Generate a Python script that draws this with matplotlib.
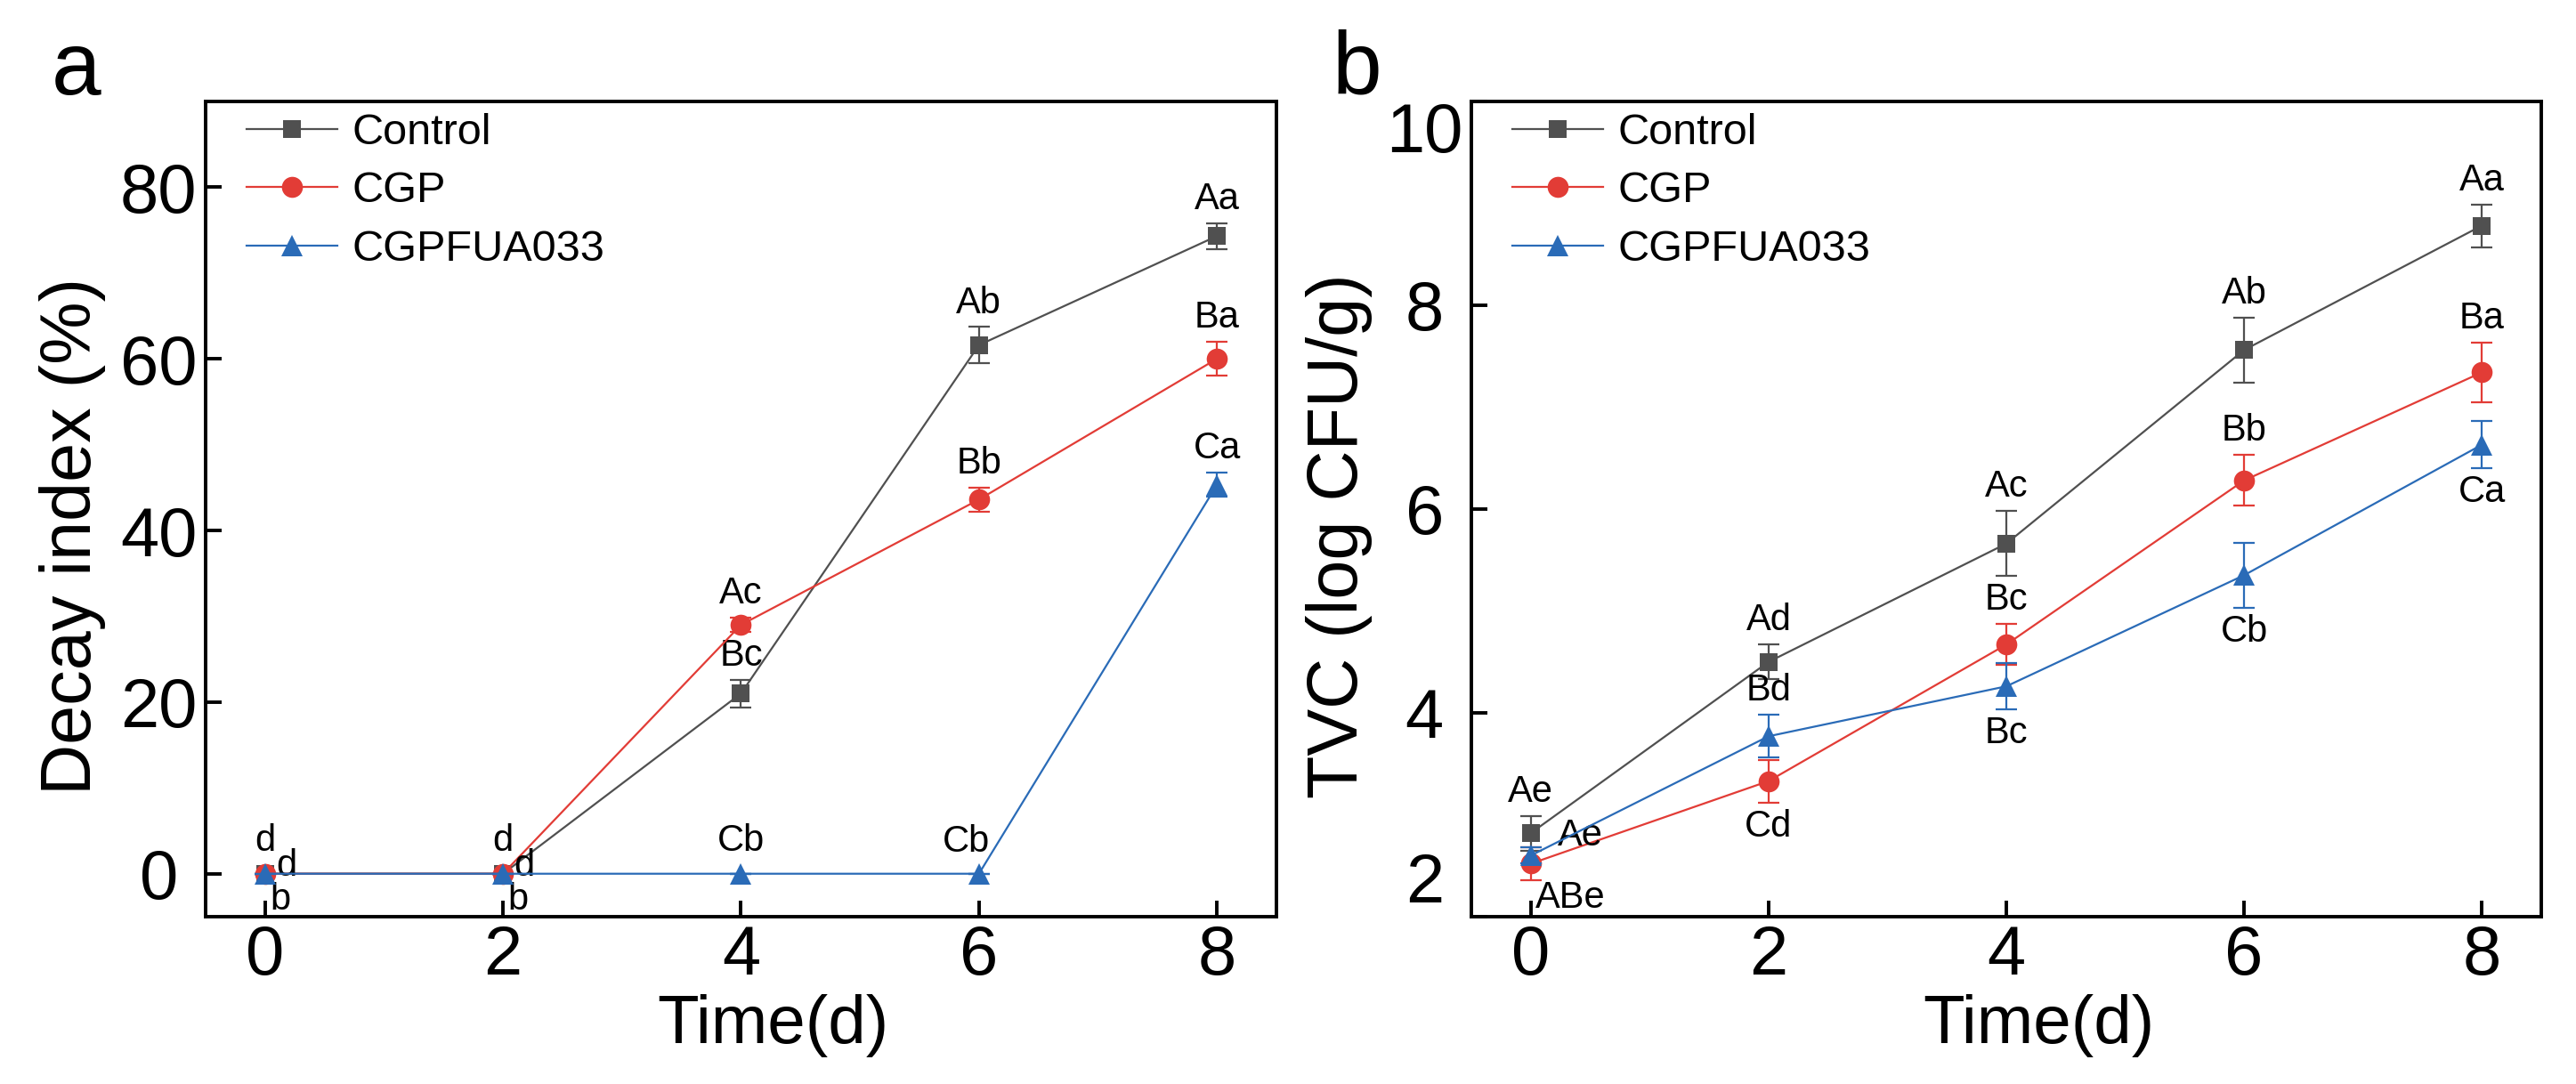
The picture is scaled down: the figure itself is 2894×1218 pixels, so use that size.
# Decay index and TVC of stored samples, panels a and b

import matplotlib.pyplot as plt

plt.rcParams["font.family"] = ["Liberation Sans", "DejaVu Sans"]

# Storage time (days)
days = [0, 2, 4, 6, 8]
series_names = ["Control", "CGP", "CGPFUA033"]

# Panel a: decay index (%)
decay_control = [0, 0, 21.0, 61.6, 74.3]
decay_control_err = [0, 0, 1.6, 2.1, 1.5]
decay_cgp = [0, 0, 29.0, 43.6, 60.0]
decay_cgp_err = [0, 0, 0.8, 1.4, 2.0]
decay_fua = [0, 0, 0, 0, 45.3]
decay_fua_err = [0, 0, 0, 0, 1.4]

decay_control_lbl = ["d", "d", "Bc", "Ab", "Aa"]
decay_cgp_lbl = ["d", "d", "Ac", "Bb", "Ba"]
decay_fua_lbl = ["b", "b", "Cb", "Cb", "Ca"]

# Panel b: total viable count (log CFU/g)
tvc_control = [2.82, 4.50, 5.66, 7.56, 8.78]
tvc_control_err = [0.17, 0.17, 0.32, 0.32, 0.21]
tvc_cgp = [2.52, 3.33, 4.67, 6.28, 7.34]
tvc_cgp_err = [0.16, 0.21, 0.20, 0.25, 0.29]
tvc_fua = [2.60, 3.77, 4.26, 5.35, 6.63]
tvc_fua_err = [0.08, 0.21, 0.23, 0.32, 0.23]

tvc_control_lbl = ["Ae", "Ad", "Ac", "Ab", "Aa"]
tvc_cgp_lbl = ["ABe", "Cd", "Bc", "Bb", "Ba"]
tvc_fua_lbl = ["Ae", "Bd", "Bc", "Cb", "Ca"]

# Where each letter group sits relative to its point
decay_control_where = ["above", "above", "above", "above", "above"]
decay_cgp_where = ["right", "right", "above", "above", "above"]
decay_fua_where = ["below-right", "below-right", "above", "above-left", "above"]
tvc_control_where = ["above", "above", "above", "above", "above"]
tvc_cgp_where = ["below-right", "below", "above", "above", "above"]
tvc_fua_where = ["upper-right", "above", "below", "below", "below"]

colors = ["#505050", "#E23C36", "#2A6BB7"]
markers = ["s", "o", "^"]
marker_sizes = [14, 17, 17]

LW = 1.6
SPINE_LW = 2.8
FS_TICK = 56
FS_LABEL = 55
FS_NOTE = 30


def annotate(ax, x, y, err, text, where):
    gap = 5 if err > 0 else 12
    if where == "above":
        xy, off, ha, va = (x, y + err), (0, gap), "center", "bottom"
    elif where == "below":
        xy, off, ha, va = (x, y - err), (0, -gap), "center", "top"
    elif where == "right":
        xy, off, ha, va = (x, y), (9, 6), "left", "center"
    elif where == "upper-right":
        xy, off, ha, va = (x, y), (22, 16), "left", "center"
    elif where == "below-right":
        xy, off, ha, va = (x, y - err), (4, -gap + 5), "left", "top"
    else:  # above-left
        xy, off, ha, va = (x, y), (-10, 11), "center", "bottom"
    ax.annotate(text, xy=xy, xytext=off, textcoords="offset points",
                ha=ha, va=va, fontsize=FS_NOTE)


def draw_panel(ax, values, errors, labels, wheres):
    handles = []
    for i in range(3):
        ax.errorbar(days, values[i], yerr=errors[i], fmt="none",
                    ecolor=colors[i], elinewidth=LW, capsize=8.3,
                    capthick=LW, zorder=2 + i)
        h, = ax.plot(days, values[i], color=colors[i], linewidth=LW,
                     marker=markers[i], markersize=marker_sizes[i],
                     markeredgewidth=0, label=series_names[i], zorder=2 + i)
        handles.append(h)
        for x, y, e, t, w in zip(days, values[i], errors[i], labels[i], wheres[i]):
            annotate(ax, x, y, e, t, w)

    ax.set_xlim(-0.5, 8.5)
    ax.set_xticks(days)
    ax.set_xlabel("Time(d)", fontsize=FS_LABEL, va="baseline")
    ax.xaxis.set_label_coords(0.53, -0.155)
    ax.tick_params(axis="both", direction="in", length=13, width=SPINE_LW,
                   labelsize=FS_TICK, top=False, right=False)
    ax.tick_params(axis="x", pad=6)
    ax.tick_params(axis="y", pad=38)
    for sp in ax.spines.values():
        sp.set_linewidth(SPINE_LW)

    ax.legend(handles=handles, loc="upper left", bbox_to_anchor=(0.038, 0.986),
              frameon=False, fontsize=35, handlelength=2.1,
              handletextpad=0.35, labelspacing=0.42, borderpad=0,
              borderaxespad=0)


fig = plt.figure(figsize=(28.94, 12.18), dpi=100)
ax_a = fig.add_axes([0.0798, 0.1544, 0.4157, 0.7521])
ax_b = fig.add_axes([0.5712, 0.1544, 0.4153, 0.7521])

# Panel a
draw_panel(ax_a,
           [decay_control, decay_cgp, decay_fua],
           [decay_control_err, decay_cgp_err, decay_fua_err],
           [decay_control_lbl, decay_cgp_lbl, decay_fua_lbl],
           [decay_control_where, decay_cgp_where, decay_fua_where])
ax_a.set_ylim(-5, 90)
ax_a.set_yticks([0, 20, 40, 60, 80])
for lbl in ax_a.get_yticklabels():
    lbl.set_horizontalalignment("center")
ax_a.set_ylabel("Decay index (%)", fontsize=FS_LABEL + 2, va="center")
ax_a.yaxis.set_label_coords(-0.124, 0.467)

# Panel b
draw_panel(ax_b,
           [tvc_control, tvc_cgp, tvc_fua],
           [tvc_control_err, tvc_cgp_err, tvc_fua_err],
           [tvc_control_lbl, tvc_cgp_lbl, tvc_fua_lbl],
           [tvc_control_where, tvc_cgp_where, tvc_fua_where])
ax_b.set_ylim(2, 10)
ax_b.set_yticks([2, 4, 6, 8, 10])
ylbls = ax_b.get_yticklabels()
for lbl in ylbls:
    lbl.set_horizontalalignment("center")
# edge labels sit inside the axis range, as in the original
ylbls[0].set_verticalalignment("bottom")
ylbls[-1].set_verticalalignment("top")
ax_b.set_ylabel("TVC (log CFU/g)", fontsize=FS_LABEL + 2, va="center")
ax_b.yaxis.set_label_coords(-0.124, 0.467)

# Panel letters
fig.text(0.020, 0.913, "a", fontsize=72, va="baseline")
fig.text(0.517, 0.913, "b", fontsize=72, va="baseline")

fig.savefig("out.png", dpi=100)
